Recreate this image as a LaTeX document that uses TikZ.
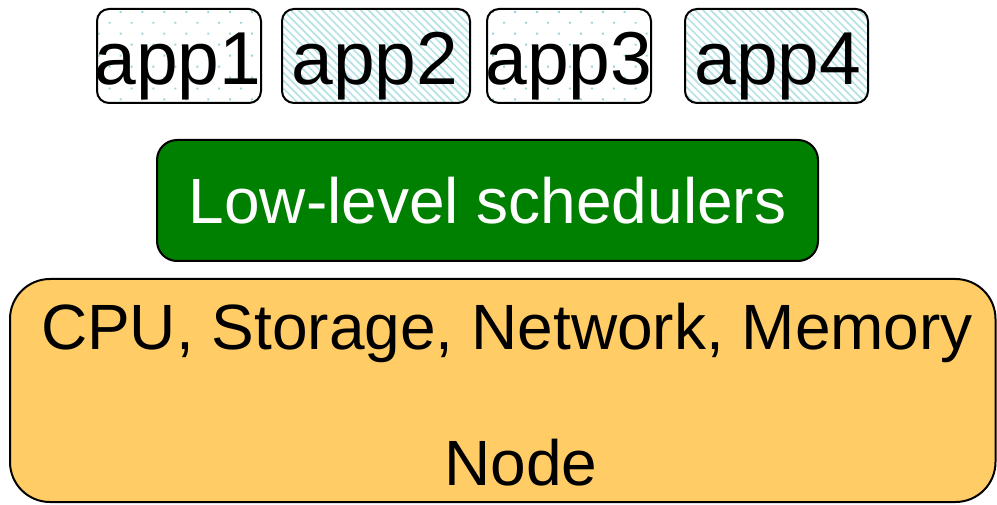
\documentclass[tikz,border=0pt]{standalone}
\usepackage{fontspec}
\setmainfont{Liberation Sans}
\usetikzlibrary{patterns.meta}
\definecolor{dotcol}{RGB}{150,212,220}
\definecolor{stripecol}{RGB}{182,226,230}
\definecolor{schedgreen}{RGB}{0,128,0}
\definecolor{nodeorange}{RGB}{255,204,102}
\tikzset{
  boxline/.style={draw=black, line width=2pt},
  appdots/.style={boxline, rounded corners=12pt,
    pattern={Dots[distance=15.5pt, radius=1.4pt, angle=45]}, pattern color=dotcol},
  appstripes/.style={boxline, rounded corners=12pt,
    pattern={Lines[distance=5.5pt, line width=1.7pt, angle=-45]}, pattern color=stripecol},
  apptext/.style={anchor=base, inner sep=0pt, font=\fontsize{75}{75}\selectfont},
  bigtext/.style={anchor=base, inner sep=0pt, font=\fontsize{64}{64}\selectfont},
}
\begin{document}
\begin{tikzpicture}[x=1pt, y=-1pt]
\useasboundingbox (0,0) rectangle (997,505);

% hardware layer
\draw[boxline, fill=nodeorange, rounded corners=40pt] (10,279) rectangle (995.5,502);
\node[bigtext] (hw) at (507,350) {CPU, Storage, Network, Memory};
\node[bigtext] (nodelabel) at (521,485) {Node};

% scheduler layer
\draw[boxline, fill=schedgreen, rounded corners=20pt] (157,140) rectangle (818,261);
\node[bigtext, text=white] (sched) at (487.5,224) {Low-level schedulers};

% applications
\draw[appdots] (97,9) rectangle (261,103);
\node[apptext] (app1) at (178,85) {app1};
\draw[appstripes] (282,9) rectangle (470,103);
\node[apptext] (app2) at (375,85) {app2};
\draw[appdots] (487,9) rectangle (651,103);
\node[apptext] (app3) at (569,85) {app3};
\draw[appstripes] (685,9) rectangle (868,103);
\node[apptext] (app4) at (778,85) {app4};
\end{tikzpicture}
\end{document}
